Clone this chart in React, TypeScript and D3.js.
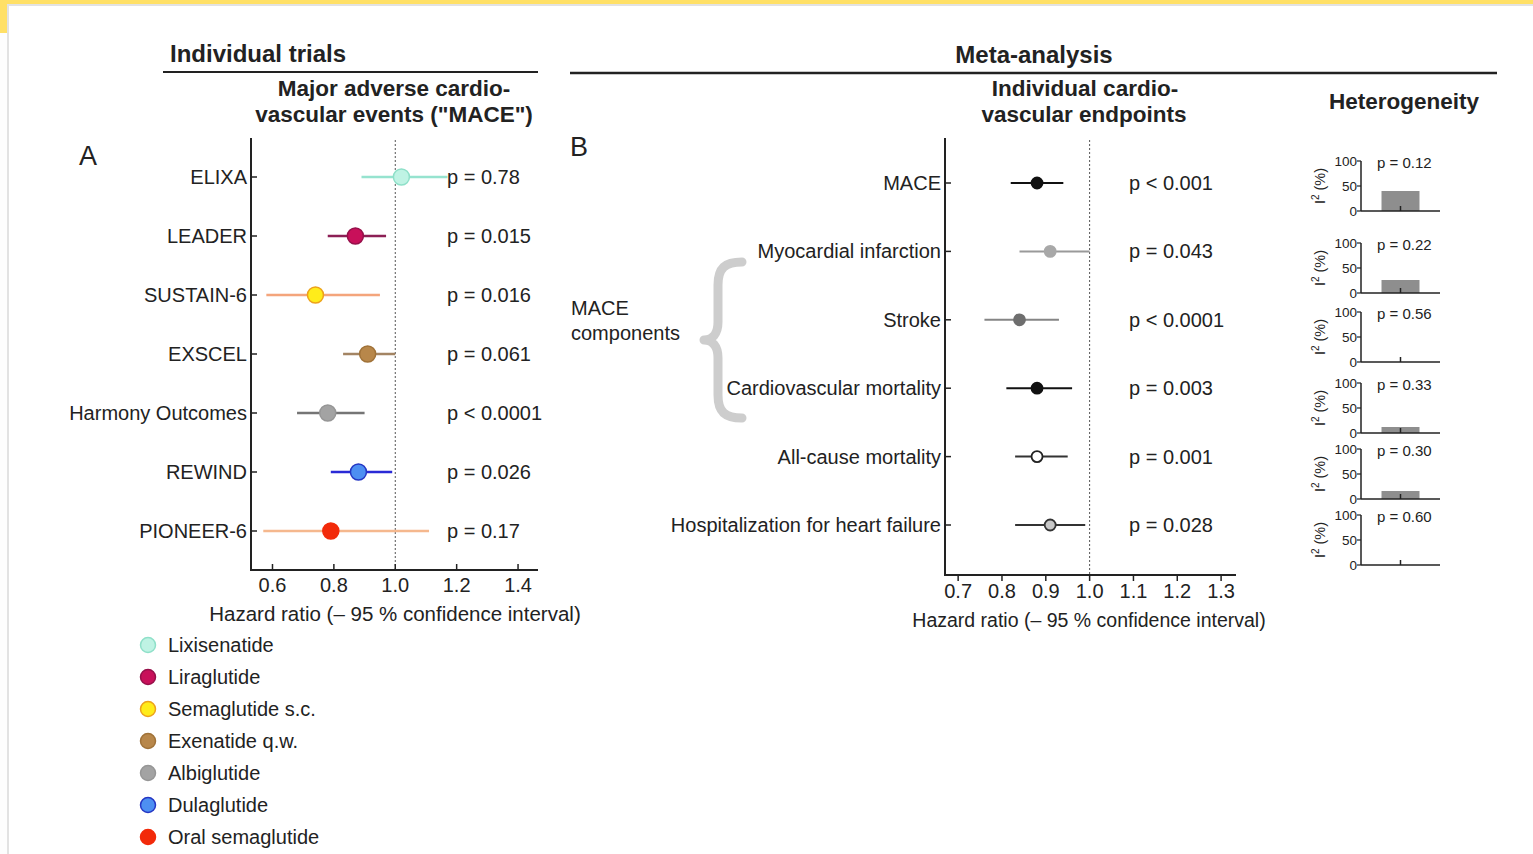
import React from "react";
import * as d3 from "d3";

// ---------- Data ----------
const trials = ["ELIXA", "LEADER", "SUSTAIN-6", "EXSCEL", "Harmony Outcomes", "REWIND", "PIONEER-6"];
const trialHR = [1.02, 0.87, 0.74, 0.91, 0.78, 0.88, 0.79];
const trialLo = [0.89, 0.78, 0.58, 0.83, 0.68, 0.79, 0.57];
const trialHi = [1.17, 0.97, 0.95, 1.0, 0.9, 0.99, 1.11];
const trialP = ["p = 0.78", "p = 0.015", "p = 0.016", "p = 0.061", "p < 0.0001", "p = 0.026", "p = 0.17"];
const drugs = ["Lixisenatide", "Liraglutide", "Semaglutide s.c.", "Exenatide q.w.", "Albiglutide", "Dulaglutide", "Oral semaglutide"];
const drugFill = ["#bff3e4", "#c8105a", "#ffec1a", "#b8874a", "#a3a3a3", "#4d8ff2", "#f22a0a"];
const drugStroke = ["#8fe0c9", "#96104a", "#eda21c", "#a07238", "#969696", "#2436c4", "#f22a0a"];
const drugLine = ["#96e3cf", "#8c1f55", "#f4a57c", "#a38463", "#757575", "#2a2ad6", "#f5b88e"];
const trialTicks = [0.6, 0.8, 1.0, 1.2, 1.4];

const endpoints = ["MACE", "Myocardial infarction", "Stroke", "Cardiovascular mortality", "All-cause mortality", "Hospitalization for heart failure"];
const endHR = [0.88, 0.91, 0.84, 0.88, 0.88, 0.91];
const endLo = [0.82, 0.84, 0.76, 0.81, 0.83, 0.83];
const endHi = [0.94, 1.0, 0.93, 0.96, 0.95, 0.99];
const endP = ["p < 0.001", "p = 0.043", "p < 0.0001", "p = 0.003", "p = 0.001", "p = 0.028"];
const endFill = ["#111111", "#a8a8a8", "#6e6e6e", "#111111", "#ffffff", "#c8c8c8"];
const endStroke = ["#111111", "#a8a8a8", "#6e6e6e", "#111111", "#222222", "#333333"];
const endLine = ["#111111", "#9a9a9a", "#858585", "#111111", "#333333", "#333333"];
const endTicks = [0.7, 0.8, 0.9, 1.0, 1.1, 1.2, 1.3];

const i2Values = [40, 26, 0, 12, 16, 0];
const hetP = ["p = 0.12", "p = 0.22", "p = 0.56", "p = 0.33", "p = 0.30", "p = 0.60"];
const i2Ticks = [0, 50, 100];
const hetBaselines = [211, 293, 362, 433, 499, 565];

const FONT = "'Liberation Sans', Arial, Helvetica, sans-serif";
const INK = "#222";

export default function App() {
  // Panel A scales
  const xA = d3.scaleLinear().domain([0.53, 1.465]).range([251, 538]);
  const yA = d3.scalePoint<string>().domain(trials).range([177, 531]);
  // Panel B scales
  const xB = d3.scaleLinear().domain([0.67, 1.334]).range([945, 1236]);
  const yB = d3.scalePoint<string>().domain(endpoints).range([183, 525]);
  // Heterogeneity mini scales
  const hx = d3.scaleBand<string>().domain(["I2"]).range([1361, 1440]).paddingInner(0).paddingOuter(0.54);
  const hy = d3.scaleLinear().domain([0, 100]).range([50, 0]);

  const legendY = d3.scalePoint<string>().domain(drugs).range([645, 837]);

  const bracePath = (() => {
    const p = d3.path();
    p.moveTo(742, 262);
    p.bezierCurveTo(725, 262, 718, 268, 718, 285);
    p.lineTo(718, 322);
    p.bezierCurveTo(718, 334, 712, 340, 704, 340);
    p.bezierCurveTo(712, 340, 718, 346, 718, 358);
    p.lineTo(718, 395);
    p.bezierCurveTo(718, 412, 725, 418, 742, 418);
    return p.toString();
  })();

  return (
    <svg
      width={1533}
      height={854}
      style={{ position: "absolute", left: 0, top: 0, display: "block", background: "#fff" }}
      fontFamily={FONT}
    >
      {/* frame */}
      <rect x={0} y={0} width={1533} height={854} fill="#ffffff" />
      <rect x={0} y={0} width={8} height={854} fill="#fdfdfd" />
      <rect x={0} y={0} width={1533} height={4} fill="#ffe066" />
      <rect x={0} y={0} width={7} height={33} fill="#ffe066" />
      <rect x={7} y={4} width={1526} height={2} fill="#e2e2e2" />
      <rect x={7} y={4} width={2} height={850} fill="#e2e2e2" />

      {/* ---------- Panel A headers ---------- */}
      <text x={170} y={61.5} fontSize={24} fontWeight="bold" fill={INK}>Individual trials</text>
      <line x1={163} x2={538} y1={72} y2={72} stroke={INK} strokeWidth={2} />
      <text x={394} y={96} fontSize={22.5} fontWeight="bold" fill={INK} textAnchor="middle">Major adverse cardio-</text>
      <text x={394} y={122} fontSize={22.5} fontWeight="bold" fill={INK} textAnchor="middle">vascular events ("MACE")</text>
      <text x={79} y={165} fontSize={27} fill={INK}>A</text>

      {/* Panel A axes */}
      <line x1={xA(1.0)} x2={xA(1.0)} y1={140} y2={570} stroke="#555" strokeWidth={1} strokeDasharray="2,2" />
      <line x1={251} x2={251} y1={138} y2={571} stroke={INK} strokeWidth={2} />
      <line x1={250} x2={538} y1={570} y2={570} stroke={INK} strokeWidth={2} />
      {trialTicks.map((t) => (
        <g key={"ta" + t}>
          <line x1={xA(t)} x2={xA(t)} y1={570} y2={564} stroke={INK} strokeWidth={1.5} />
          <text x={xA(t)} y={592} fontSize={20} fill={INK} textAnchor="middle">{t.toFixed(1)}</text>
        </g>
      ))}
      <text x={395} y={621} fontSize={20.5} fill={INK} textAnchor="middle">Hazard ratio (– 95 % confidence interval)</text>

      {trials.map((t, i) => {
        const y = yA(t)!;
        return (
          <g key={t}>
            <line x1={251} x2={257} y1={y} y2={y} stroke={INK} strokeWidth={1.5} />
            <text x={247} y={y + 7} fontSize={20} fill={INK} textAnchor="end">{t}</text>
            <line x1={xA(trialLo[i])} x2={xA(trialHi[i])} y1={y} y2={y} stroke={drugLine[i]} strokeWidth={2.5} />
            <circle cx={xA(trialHR[i])} cy={y} r={8} fill={drugFill[i]} stroke={drugStroke[i]} strokeWidth={1.5} />
            <text x={447} y={y + 7} fontSize={20} fill={INK}>{trialP[i]}</text>
          </g>
        );
      })}

      {/* Legend */}
      {drugs.map((d, i) => {
        const y = legendY(d)!;
        return (
          <g key={d}>
            <circle cx={148} cy={y} r={7.5} fill={drugFill[i]} stroke={drugStroke[i]} strokeWidth={1.5} />
            <text x={168} y={y + 7} fontSize={20} fill={INK}>{d}</text>
          </g>
        );
      })}

      {/* ---------- Panel B headers ---------- */}
      <text x={1034} y={63} fontSize={24} fontWeight="bold" fill={INK} textAnchor="middle">Meta-analysis</text>
      <line x1={570} x2={1497} y1={73} y2={73} stroke={INK} strokeWidth={2.5} />
      <text x={1085} y={96} fontSize={22.5} fontWeight="bold" fill={INK} textAnchor="middle">Individual cardio-</text>
      <text x={1084} y={122} fontSize={22.5} fontWeight="bold" fill={INK} textAnchor="middle">vascular endpoints</text>
      <text x={1404} y={109} fontSize={22.5} fontWeight="bold" fill={INK} textAnchor="middle">Heterogeneity</text>
      <text x={570} y={156} fontSize={27} fill={INK}>B</text>

      {/* MACE components brace */}
      <path d={bracePath} fill="none" stroke="#cdcdcd" strokeWidth={9} strokeLinecap="round" strokeLinejoin="round" />
      <text x={571} y={315} fontSize={20} fill={INK}>MACE</text>
      <text x={571} y={340} fontSize={20} fill={INK}>components</text>

      {/* Panel B axes */}
      <line x1={xB(1.0)} x2={xB(1.0)} y1={140} y2={575} stroke="#555" strokeWidth={1} strokeDasharray="2,2" />
      <line x1={945} x2={945} y1={138} y2={576} stroke={INK} strokeWidth={2} />
      <line x1={944} x2={1236} y1={575} y2={575} stroke={INK} strokeWidth={2} />
      {endTicks.map((t) => (
        <g key={"tb" + t}>
          <line x1={xB(t)} x2={xB(t)} y1={575} y2={581} stroke={INK} strokeWidth={1.5} />
          <text x={xB(t)} y={598} fontSize={20} fill={INK} textAnchor="middle">{t.toFixed(1)}</text>
        </g>
      ))}
      <text x={1089} y={627} fontSize={19.5} fill={INK} textAnchor="middle">Hazard ratio (– 95 % confidence interval)</text>

      {endpoints.map((e, i) => {
        const y = yB(e)!;
        return (
          <g key={e}>
            <line x1={945} x2={951} y1={y} y2={y} stroke={INK} strokeWidth={1.5} />
            <text x={941} y={y + 7} fontSize={20} fill={INK} textAnchor="end">{e}</text>
            <line x1={xB(endLo[i])} x2={xB(endHi[i])} y1={y} y2={y} stroke={endLine[i]} strokeWidth={2} />
            <circle cx={xB(endHR[i])} cy={y} r={5.5} fill={endFill[i]} stroke={endStroke[i]} strokeWidth={1.8} />
            <text x={1129} y={y + 7} fontSize={20} fill={INK}>{endP[i]}</text>
          </g>
        );
      })}

      {/* Heterogeneity mini charts */}
      {i2Values.map((v, i) => {
        const base = hetBaselines[i];
        const top = base - 50;
        const bx = hx("I2")!;
        const bw = hx.bandwidth();
        return (
          <g key={"het" + i} transform={`translate(0,${top})`}>
            {v > 0 && (
              <rect x={bx} y={hy(v)} width={bw} height={hy(0) - hy(v)} fill="#8e8e8e" />
            )}
            <line x1={1361} x2={1361} y1={hy(100)} y2={hy(0)} stroke={INK} strokeWidth={1.5} />
            <line x1={1361} x2={1440} y1={hy(0)} y2={hy(0)} stroke={INK} strokeWidth={1.5} />
            <line x1={bx + bw / 2} x2={bx + bw / 2} y1={hy(0)} y2={hy(0) - 5} stroke={INK} strokeWidth={1.5} />
            {i2Ticks.map((t) => (
              <g key={t}>
                <line x1={1357} x2={1361} y1={hy(t)} y2={hy(t)} stroke={INK} strokeWidth={1.2} />
                <text x={1357} y={hy(t) + 5} fontSize={13.5} fill={INK} textAnchor="end">{t}</text>
              </g>
            ))}
            <text x={1377} y={hy(100) + 7} fontSize={15} fill={INK}>{hetP[i]}</text>
            <text
              transform={`translate(1325,${hy(50)}) rotate(-90)`}
              fontSize={14.5}
              fill={INK}
              textAnchor="middle"
            >
              I<tspan fontSize={10} dy={-6}>2</tspan><tspan dy={6}> (%)</tspan>
            </text>
          </g>
        );
      })}
    </svg>
  );
}
